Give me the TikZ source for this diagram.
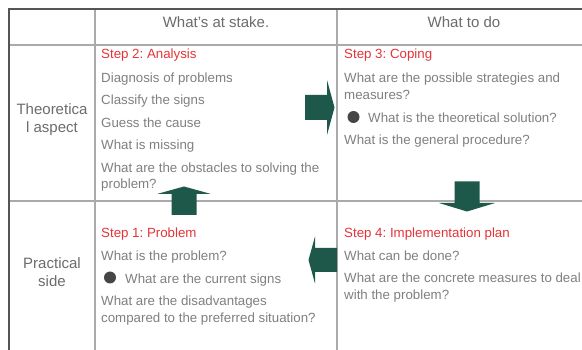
\documentclass[tikz,border=0pt]{standalone}
\usepackage{fontspec}
\setmainfont{Liberation Sans}
\frenchspacing
\definecolor{bodygray}{RGB}{128,128,128}
\definecolor{headgray}{RGB}{108,108,108}
\definecolor{stepred}{RGB}{228,52,56}
\definecolor{framedark}{RGB}{85,85,85}
\definecolor{gridgray}{RGB}{170,170,170}
\definecolor{arrowgreen}{RGB}{30,88,74}
\definecolor{dotgray}{RGB}{70,70,70}
\begin{document}
\begin{tikzpicture}[x=1pt,y=-1pt,
  bodytext/.style={anchor=base west, inner sep=0pt, text=bodygray,
    font=\fontsize{13.3}{17}\selectfont},
  steptitle/.style={bodytext, text=stepred},
  headtext/.style={anchor=base, inner sep=0pt, text=headgray,
    font=\fontsize{15}{18}\selectfont},
  sidetext/.style={headtext},
  frameline/.style={draw=framedark, line width=2pt},
  gridline/.style={draw=gridgray, line width=1.3pt},
  blockarrow/.style={fill=arrowgreen},
  dot/.style={circle, fill=dotgray, inner sep=0pt, minimum size=12pt}]
\useasboundingbox (0,0) rectangle (582,350);
\fill[white] (0,0) rectangle (582,350);

% table grid
\coordinate (tl) at (9,9);
\draw[gridline] (95,9) -- (95,350);
\draw[gridline] (337,9) -- (337,350);
\draw[gridline] (9,45) -- (582,45);
\draw[gridline] (9,201) -- (582,201);
\draw[frameline] (582,9) -- (tl) -- (9,350);

% column headers
\node[headtext] (hstake) at (216,28) {What's at stake.};
\node[headtext] (hdo) at (464,28) {What to do};

% row headers
\node[sidetext] (theo1) at (52,115) {Theoretica};
\node[sidetext] (theo2) at (52,133) {l aspect};
\node[sidetext] (prac1) at (52,269) {Practical};
\node[sidetext] (prac2) at (52,287) {side};

% step 2
\node[steptitle] (s2) at (101,59) {Step 2: Analysis};
\node[bodytext] (s2a) at (101,82.4) {Diagnosis of problems};
\node[bodytext] (s2b) at (101,104.9) {Classify the signs};
\node[bodytext] (s2c) at (101,127.4) {Guess the cause};
\node[bodytext] (s2d) at (101,150) {What is missing};
\node[bodytext] (s2e) at (101,172.4) {What are the obstacles to solving the};
\node[bodytext] (s2f) at (101,189) {problem?};

% step 3
\node[steptitle] (s3) at (344,59) {Step 3: Coping};
\node[bodytext] (s3a) at (344,82.4) {What are the possible strategies and};
\node[bodytext] (s3b) at (344,99.4) {measures?};
\node[dot] (d3) at (353.5,117) {};
\node[bodytext] (s3c) at (368,123) {What is the theoretical solution?};
\node[bodytext] (s3d) at (344,144.7) {What is the general procedure?};

% step 1
\node[steptitle] (s1) at (101,237.4) {Step 1: Problem};
\node[bodytext] (s1a) at (101,260.7) {What is the problem?};
\node[dot] (d1) at (110,277.5) {};
\node[bodytext] (s1b) at (125,283.5) {What are the current signs};
\node[bodytext] (s1c) at (101,305.7) {What are the disadvantages};
\node[bodytext] (s1d) at (101,322.7) {compared to the preferred situation?};

% step 4
\node[steptitle] (s4) at (344,237.4) {Step 4: Implementation plan};
\node[bodytext] (s4a) at (344,260.7) {What can be done?};
\node[bodytext] (s4b) at (344,283) {What are the concrete measures to deal};
\node[bodytext] (s4c) at (344,300) {with the problem?};

% block arrows between the steps
\fill[blockarrow] (305,95) -- (327,95) -- (327,80) -- (334.5,107.5)
  -- (327,135) -- (327,120) -- (305,120) -- cycle;
\fill[blockarrow] (454.5,181.5) -- (479.5,181.5) -- (479.5,203) -- (495,203)
  -- (467,211.5) -- (439,203) -- (454.5,203) -- cycle;
\fill[blockarrow] (337,248) -- (315,248) -- (315,236.5) -- (308.5,260)
  -- (315,283.5) -- (315,272) -- (337,272) -- cycle;
\fill[blockarrow] (171.5,215) -- (196.5,215) -- (196.5,194) -- (211,194)
  -- (184,186.5) -- (157,194) -- (171.5,194) -- cycle;
\end{tikzpicture}
\end{document}
